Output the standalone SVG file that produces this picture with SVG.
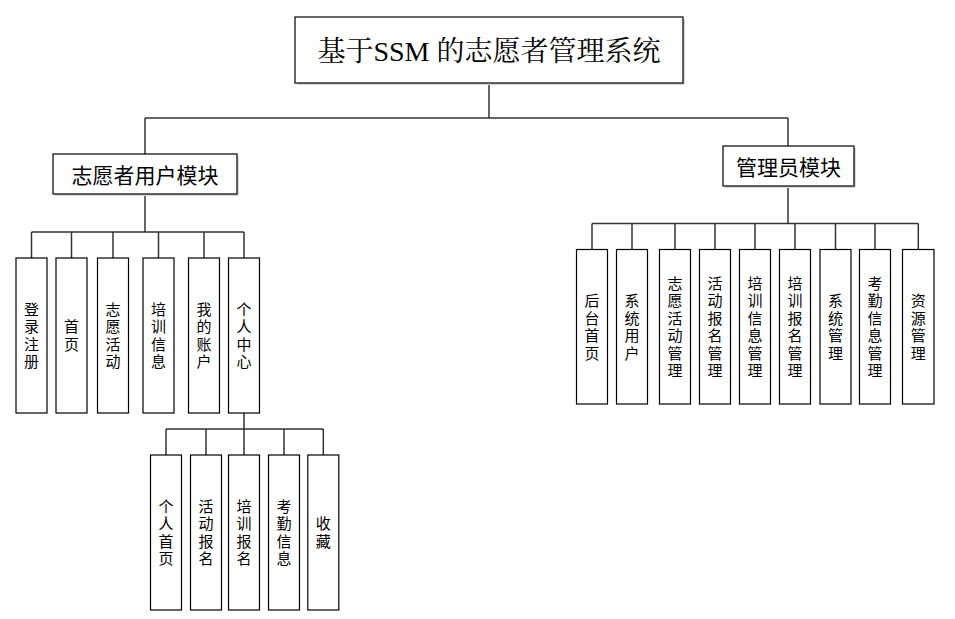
<svg xmlns="http://www.w3.org/2000/svg" width="955" height="619" viewBox="0 0 955 619">
<style>
.box{fill:#fff;stroke:#000;stroke-width:1.2}
.sh{fill:#d8d8d8;stroke:none}
.lbl{font-family:"Noto Sans CJK SC","Microsoft YaHei",sans-serif;font-size:15px;fill:#000;text-anchor:middle;writing-mode:vertical-rl;letter-spacing:2.5px}
.mod{font-family:"Noto Sans CJK SC",sans-serif;font-size:21px;fill:#000;text-anchor:middle;dominant-baseline:central}
.ttl{font-family:"Liberation Serif","Noto Serif CJK SC","Noto Sans CJK SC",serif;font-size:28px;fill:#000;text-anchor:middle;dominant-baseline:central}
.ln{fill:none;stroke:#333;stroke-width:1.5}
</style>
<rect width="955" height="619" fill="#fff"/>
<g id="connectors">
<path class="ln" d="M489 83V118M145 118H788M145 118V154M788 118V146"/>
<path class="ln" d="M145 194V232M31.5 232H244M31.5 232V258M71.5 232V258M113 232V258M158.5 232V258M204 232V258M244 232V258"/>
<path class="ln" d="M244 413V429M166 429H323.3M166 429V455M206 429V455M244 429V455M284 429V455M323.3 429V455"/>
<path class="ln" d="M788 186V223.5M592 223.5H918.3M592 223.5V249.5M632 223.5V249.5M675 223.5V249.5M715 223.5V249.5M755 223.5V249.5M795 223.5V249.5M835.5 223.5V249.5M875 223.5V249.5M918.3 223.5V249.5"/>
</g>
<g id="title">
<rect class="sh" x="297" y="19" width="388" height="66"/>
<rect class="box" x="295" y="17" width="388" height="66"/>
<text class="ttl" x="489" y="51">基于SSM 的志愿者管理系统</text>
</g>
<g id="volunteer-module">
<rect class="sh" x="55" y="156" width="184" height="40"/>
<rect class="box" x="53" y="154" width="184" height="40"/>
<text class="mod" x="145" y="174">志愿者用户模块</text>
</g>
<g id="admin-module">
<rect class="sh" x="725" y="148" width="131" height="40"/>
<rect class="box" x="723" y="146" width="131" height="40"/>
<text class="mod" x="788.5" y="166">管理员模块</text>
</g>
<g id="v-login"><rect class="box" x="16" y="258" width="31" height="155"/><text class="lbl" x="31.5" y="336.8">登录注册</text></g>
<g id="v-home"><rect class="box" x="56" y="258" width="31" height="155"/><text class="lbl" x="71.5" y="336.8">首页</text></g>
<g id="v-activity"><rect class="box" x="97.5" y="258" width="31" height="155"/><text class="lbl" x="113" y="336.8">志愿活动</text></g>
<g id="v-training"><rect class="box" x="143" y="258" width="31" height="155"/><text class="lbl" x="158.5" y="336.8">培训信息</text></g>
<g id="v-account"><rect class="box" x="188.5" y="258" width="31" height="155"/><text class="lbl" x="204" y="336.8">我的账户</text></g>
<g id="v-center"><rect class="box" x="228.5" y="258" width="31" height="155"/><text class="lbl" x="244" y="336.8">个人中心</text></g>
<g id="c-home"><rect class="box" x="150.5" y="455" width="31" height="155"/><text class="lbl" x="166" y="533.8">个人首页</text></g>
<g id="c-act-signup"><rect class="box" x="190.5" y="455" width="31" height="155"/><text class="lbl" x="206" y="533.8">活动报名</text></g>
<g id="c-train-signup"><rect class="box" x="228.5" y="455" width="31" height="155"/><text class="lbl" x="244" y="533.8">培训报名</text></g>
<g id="c-attendance"><rect class="box" x="268.5" y="455" width="31" height="155"/><text class="lbl" x="284" y="533.8">考勤信息</text></g>
<g id="c-favorite"><rect class="box" x="307.8" y="455" width="31" height="155"/><text class="lbl" x="323.3" y="533.8">收藏</text></g>
<g id="a-home"><rect class="box" x="576.5" y="249.5" width="31" height="154.5"/><text class="lbl" x="592" y="328">后台首页</text></g>
<g id="a-users"><rect class="box" x="616.5" y="249.5" width="31" height="154.5"/><text class="lbl" x="632" y="328">系统用户</text></g>
<g id="a-activity"><rect class="box" x="659.5" y="249.5" width="31" height="154.5"/><text class="lbl" x="675" y="328">志愿活动管理</text></g>
<g id="a-act-signup"><rect class="box" x="699.5" y="249.5" width="31" height="154.5"/><text class="lbl" x="715" y="328">活动报名管理</text></g>
<g id="a-training"><rect class="box" x="739.5" y="249.5" width="31" height="154.5"/><text class="lbl" x="755" y="328">培训信息管理</text></g>
<g id="a-train-signup"><rect class="box" x="779.5" y="249.5" width="31" height="154.5"/><text class="lbl" x="795" y="328">培训报名管理</text></g>
<g id="a-system"><rect class="box" x="820" y="249.5" width="31" height="154.5"/><text class="lbl" x="835.5" y="328">系统管理</text></g>
<g id="a-attendance"><rect class="box" x="859.5" y="249.5" width="31" height="154.5"/><text class="lbl" x="875" y="328">考勤信息管理</text></g>
<g id="a-resource"><rect class="box" x="902.5" y="249.5" width="31.5" height="154.5"/><text class="lbl" x="918.3" y="328">资源管理</text></g>
</svg>
